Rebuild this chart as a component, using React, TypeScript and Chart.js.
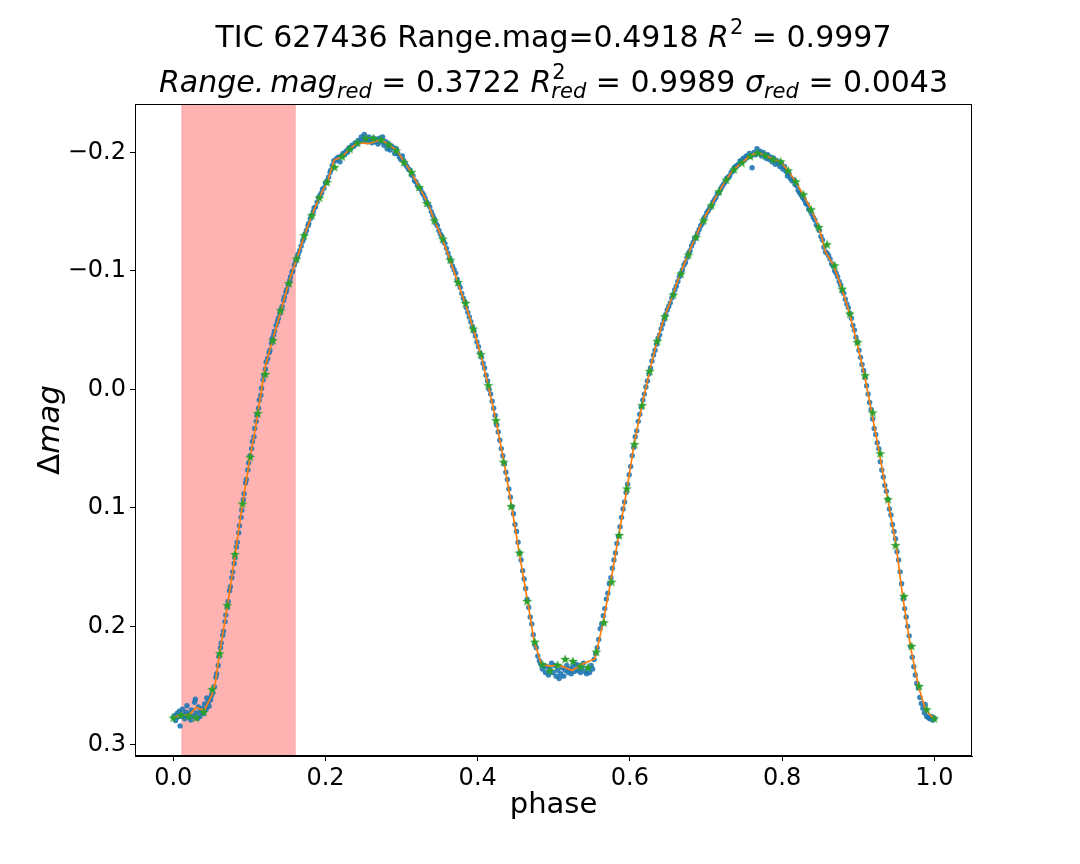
import React, { useEffect, useRef } from 'react';
import { Chart, registerables } from 'chart.js';
Chart.register(...registerables);

const xRange = [-0.0503, 1.0495];
const yRange = [-0.2408, 0.3094];
const xTicks = [0, 0.2, 0.4, 0.6, 0.8, 1.0];
const yTicks = [-0.2, -0.1, 0, 0.1, 0.2, 0.3];
const bandRange = [0.0105, 0.161];

// fitted curve (orange)
const fitPhase = [0.000, 0.0114, 0.021, 0.0302, 0.0407, 0.0508, 0.0551, 0.0608, 0.0713, 0.0814, 0.091, 0.101, 0.1076, 0.1207, 0.1304, 0.1417, 0.1514, 0.1623, 0.1723, 0.182, 0.1916, 0.2025, 0.2113, 0.2222, 0.2323, 0.2424, 0.2563, 0.273, 0.2826, 0.2936, 0.3036, 0.3123, 0.3233, 0.3342, 0.343, 0.3534, 0.3635, 0.3736, 0.3832, 0.3941, 0.4038, 0.4138, 0.4239, 0.4344, 0.4445, 0.4545, 0.4655, 0.4742, 0.4838, 0.4948, 0.5057, 0.5245, 0.535, 0.5538, 0.556, 0.5647, 0.5748, 0.5853, 0.5963, 0.6055, 0.6159, 0.626, 0.6356, 0.6457, 0.6566, 0.6662, 0.6763, 0.6864, 0.696, 0.707, 0.717, 0.7266, 0.7362, 0.7476, 0.7572, 0.7668, 0.7782, 0.7878, 0.7975, 0.8075, 0.8176, 0.8272, 0.8382, 0.8482, 0.857, 0.8675, 0.8785, 0.8885, 0.8981, 0.9081, 0.9177, 0.9278, 0.9387, 0.9497, 0.9584, 0.9685, 0.979, 0.9882, 0.9987];
const fitMag = [0.277, 0.2747, 0.2747, 0.2685, 0.271, 0.2578, 0.248, 0.2227, 0.182, 0.139, 0.0963, 0.0569, 0.034, -0.019, -0.0415, -0.0668, -0.0898, -0.1104, -0.130, -0.1469, -0.1618, -0.175, -0.1933, -0.1966, -0.2031, -0.2082, -0.2073, -0.2107, -0.2067, -0.2017, -0.1918, -0.1834, -0.1707, -0.1573, -0.1427, -0.1272, -0.1095, -0.0906, -0.0729, -0.0513, -0.0297, -0.0035, 0.026, 0.0611, 0.0985, 0.1378, 0.1786, 0.2129, 0.232, 0.2335, 0.2325, 0.2373, 0.2325, 0.2275, 0.2219, 0.1966, 0.1623, 0.1229, 0.0836, 0.0462, 0.0133, -0.0156, -0.0409, -0.0617, -0.08, -0.0977, -0.1137, -0.1286, -0.1427, -0.1553, -0.1671, -0.177, -0.1857, -0.1913, -0.1969, -0.1997, -0.1975, -0.1941, -0.1924, -0.1848, -0.1755, -0.1646, -0.1519, -0.137, -0.116, -0.1047, -0.085, -0.064, -0.04, -0.012, 0.0195, 0.054, 0.0926, 0.1314, 0.1744, 0.2165, 0.2503, 0.27, 0.2776];

// binned means (green stars)
const starPhase = [0.000, 0.010, 0.020, 0.030, 0.040, 0.051, 0.061, 0.071, 0.081, 0.091, 0.101, 0.111, 0.121, 0.131, 0.141, 0.152, 0.162, 0.172, 0.182, 0.192, 0.202, 0.212, 0.222, 0.232, 0.242, 0.253, 0.263, 0.273, 0.283, 0.293, 0.303, 0.313, 0.323, 0.333, 0.343, 0.354, 0.364, 0.374, 0.384, 0.394, 0.404, 0.414, 0.424, 0.434, 0.444, 0.455, 0.465, 0.475, 0.485, 0.495, 0.505, 0.515, 0.525, 0.535, 0.545, 0.556, 0.566, 0.576, 0.586, 0.596, 0.606, 0.616, 0.626, 0.636, 0.646, 0.657, 0.667, 0.677, 0.687, 0.697, 0.707, 0.717, 0.727, 0.737, 0.747, 0.758, 0.768, 0.778, 0.788, 0.798, 0.808, 0.818, 0.828, 0.838, 0.848, 0.859, 0.869, 0.879, 0.889, 0.899, 0.909, 0.919, 0.929, 0.939, 0.949, 0.960, 0.970, 0.980, 0.990, 1.000];
const starMag = [0.277, 0.2747, 0.2755, 0.277, 0.2722, 0.253, 0.2227, 0.182, 0.139, 0.0963, 0.0569, 0.0200, -0.013, -0.0415, -0.0668, -0.0898, -0.1104, -0.130, -0.1469, -0.1618, -0.175, -0.1876, -0.1966, -0.2031, -0.2082, -0.2121, -0.2121, -0.2107, -0.2067, -0.2017, -0.1918, -0.1834, -0.1707, -0.1573, -0.1427, -0.1272, -0.1095, -0.0906, -0.0729, -0.0513, -0.0297, -0.0035, 0.026, 0.0611, 0.0985, 0.1378, 0.1786, 0.2129, 0.232, 0.2373, 0.2325, 0.2275, 0.2292, 0.234, 0.2345, 0.2213, 0.1966, 0.1623, 0.1229, 0.0836, 0.0462, 0.0133, -0.0156, -0.0409, -0.0617, -0.08, -0.0977, -0.1137, -0.1286, -0.1427, -0.1553, -0.1671, -0.177, -0.1857, -0.1913, -0.1969, -0.1997, -0.1975, -0.1941, -0.1924, -0.1848, -0.1755, -0.1646, -0.1519, -0.137, -0.1224, -0.1047, -0.085, -0.064, -0.04, -0.012, 0.0195, 0.054, 0.0926, 0.1314, 0.1744, 0.2165, 0.2503, 0.27, 0.2776];

// observations (blue dots): [phase, mag]
const blueDots: [number, number][] = [
  [0.001, 0.2755], [0.003, 0.2795], [0.005, 0.2735], [0.006, 0.2765], [0.008, 0.2715], [0.009, 0.2840], [0.011, 0.2760], [0.012, 0.2700],
  [0.014, 0.2745], [0.015, 0.2780], [0.017, 0.2725], [0.018, 0.2670], [0.020, 0.2765], [0.021, 0.2740], [0.023, 0.2790], [0.024, 0.2705],
  [0.026, 0.2755], [0.028, 0.2640], [0.029, 0.2615], [0.030, 0.2730], [0.032, 0.2775], [0.033, 0.2680], [0.035, 0.2760], [0.036, 0.2720],
  [0.038, 0.2695], [0.040, 0.2735], [0.041, 0.2655], [0.043, 0.2700], [0.044, 0.2605], [0.046, 0.2640], [0.047, 0.2675], [0.049, 0.2620],
  [0.050, 0.2585], [0.052, 0.2560], [0.054, 0.2510], [0.056, 0.2430], [0.057, 0.2400], [0.059, 0.2330], [0.060, 0.2255], [0.062, 0.2180],
  [0.063, 0.2140], [0.065, 0.2075], [0.066, 0.2040], [0.068, 0.1960], [0.069, 0.1905], [0.071, 0.1840], [0.072, 0.1790], [0.074, 0.1700],
  [0.075, 0.1665], [0.077, 0.1590], [0.078, 0.1540], [0.080, 0.1470], [0.081, 0.1420], [0.083, 0.1330], [0.084, 0.1290], [0.086, 0.1210],
  [0.087, 0.1150], [0.089, 0.1080], [0.090, 0.1020], [0.092, 0.0930], [0.093, 0.0880], [0.095, 0.0790], [0.096, 0.0760], [0.098, 0.0680],
  [0.099, 0.0620], [0.101, 0.0560], [0.103, 0.0500], [0.104, 0.0440], [0.106, 0.0400], [0.107, 0.0330], [0.109, 0.0270], [0.110, 0.0220],
  [0.112, 0.0160], [0.113, 0.0090], [0.115, 0.0050], [0.116, -0.0010], [0.118, -0.0080], [0.119, -0.0120], [0.121, -0.0170], [0.122, -0.0230],
  [0.124, -0.0260], [0.126, -0.0310], [0.127, -0.0330], [0.129, -0.0390], [0.130, -0.0430], [0.132, -0.0460], [0.133, -0.0490], [0.135, -0.0540],
  [0.137, -0.0570], [0.138, -0.0600], [0.140, -0.0640], [0.141, -0.0670], [0.143, -0.0700], [0.145, -0.0750], [0.146, -0.0780], [0.148, -0.0820],
  [0.149, -0.0840], [0.151, -0.0880], [0.153, -0.0920], [0.154, -0.0950], [0.156, -0.0990], [0.157, -0.1000], [0.159, -0.1050], [0.161, -0.1080],
  [0.163, -0.1120], [0.164, -0.1140], [0.166, -0.1170], [0.168, -0.1210], [0.170, -0.1250], [0.171, -0.1270], [0.173, -0.1310], [0.175, -0.1340],
  [0.177, -0.1380], [0.178, -0.1400], [0.180, -0.1440], [0.182, -0.1470], [0.184, -0.1500], [0.185, -0.1530], [0.187, -0.1540], [0.189, -0.1580],
  [0.191, -0.1620], [0.193, -0.1640], [0.195, -0.1660], [0.196, -0.1690], [0.198, -0.1700], [0.200, -0.1740], [0.202, -0.1760], [0.204, -0.1790],
  [0.206, -0.1830], [0.207, -0.1850], [0.209, -0.1890], [0.211, -0.1930], [0.213, -0.1930], [0.215, -0.1950], [0.217, -0.1960], [0.219, -0.1920],
  [0.221, -0.1970], [0.223, -0.1990], [0.225, -0.1980], [0.227, -0.2010], [0.229, -0.2000], [0.231, -0.2040], [0.233, -0.2030], [0.235, -0.2060],
  [0.237, -0.2050], [0.239, -0.2080], [0.241, -0.2070], [0.243, -0.2100], [0.245, -0.2090], [0.247, -0.2130], [0.249, -0.2100], [0.251, -0.2150],
  [0.253, -0.2110], [0.255, -0.2090], [0.257, -0.2130], [0.259, -0.2100], [0.261, -0.2080], [0.263, -0.2120], [0.265, -0.2090], [0.267, -0.2110],
  [0.269, -0.2070], [0.271, -0.2120], [0.273, -0.2090], [0.275, -0.2130], [0.277, -0.2060], [0.279, -0.2090], [0.281, -0.2030], [0.283, -0.2070],
  [0.285, -0.2020], [0.287, -0.2050], [0.289, -0.2040], [0.291, -0.1990], [0.293, -0.2030], [0.295, -0.1990], [0.297, -0.1960], [0.299, -0.1940],
  [0.301, -0.1970], [0.303, -0.1930], [0.305, -0.1900], [0.307, -0.1880], [0.309, -0.1860], [0.311, -0.1850], [0.313, -0.1810], [0.315, -0.1800],
  [0.317, -0.1760], [0.319, -0.1750], [0.321, -0.1720], [0.323, -0.1700], [0.325, -0.1690], [0.327, -0.1660], [0.329, -0.1640], [0.331, -0.1610],
  [0.333, -0.1580], [0.335, -0.1560], [0.337, -0.1540], [0.339, -0.1500], [0.341, -0.1470], [0.343, -0.1440], [0.345, -0.1400], [0.347, -0.1380],
  [0.349, -0.1340], [0.351, -0.1310], [0.353, -0.1290], [0.355, -0.1250], [0.357, -0.1230], [0.359, -0.1190], [0.361, -0.1150], [0.363, -0.1110],
  [0.365, -0.1080], [0.367, -0.1040], [0.369, -0.1010], [0.371, -0.0980], [0.373, -0.0930], [0.375, -0.0890], [0.377, -0.0860], [0.379, -0.0810],
  [0.381, -0.0770], [0.383, -0.0740], [0.385, -0.0690], [0.387, -0.0650], [0.389, -0.0610], [0.391, -0.0570], [0.393, -0.0530], [0.395, -0.0490],
  [0.397, -0.0450], [0.399, -0.0400], [0.401, -0.0360], [0.403, -0.0310], [0.405, -0.0270], [0.407, -0.0220], [0.409, -0.0180], [0.411, -0.0120],
  [0.413, -0.0070], [0.415, 0.0000], [0.417, 0.0040], [0.419, 0.0100], [0.421, 0.0160], [0.423, 0.0220], [0.425, 0.0300], [0.427, 0.0360],
  [0.429, 0.0430], [0.431, 0.0500], [0.433, 0.0560], [0.435, 0.0630], [0.437, 0.0700], [0.439, 0.0760], [0.441, 0.0840], [0.443, 0.0910],
  [0.445, 0.0990], [0.447, 0.1050], [0.449, 0.1140], [0.451, 0.1200], [0.453, 0.1290], [0.455, 0.1380], [0.457, 0.1440], [0.459, 0.1530],
  [0.461, 0.1600], [0.463, 0.1680], [0.465, 0.1770], [0.467, 0.1840], [0.469, 0.1920], [0.471, 0.1980], [0.473, 0.2070], [0.475, 0.2150],
  [0.477, 0.2180], [0.479, 0.2250], [0.481, 0.2290], [0.483, 0.2320], [0.485, 0.2360], [0.487, 0.2330], [0.489, 0.2390], [0.491, 0.2340],
  [0.493, 0.2410], [0.495, 0.2360], [0.497, 0.2310], [0.499, 0.2390], [0.501, 0.2330], [0.503, 0.2420], [0.505, 0.2370], [0.507, 0.2440],
  [0.509, 0.2400], [0.511, 0.2350], [0.513, 0.2420], [0.515, 0.2370], [0.517, 0.2330], [0.519, 0.2390], [0.521, 0.2360], [0.523, 0.2400],
  [0.525, 0.2340], [0.527, 0.2380], [0.529, 0.2320], [0.531, 0.2370], [0.533, 0.2330], [0.535, 0.2390], [0.537, 0.2350], [0.539, 0.2310],
  [0.541, 0.2380], [0.543, 0.2400], [0.545, 0.2350], [0.547, 0.2390], [0.549, 0.2330], [0.551, 0.2360], [0.553, 0.2280], [0.555, 0.2230],
  [0.557, 0.2180], [0.559, 0.2110], [0.561, 0.2020], [0.563, 0.1980], [0.565, 0.1910], [0.567, 0.1850], [0.569, 0.1770], [0.571, 0.1720],
  [0.573, 0.1640], [0.575, 0.1590], [0.577, 0.1510], [0.579, 0.1440], [0.581, 0.1380], [0.583, 0.1300], [0.585, 0.1240], [0.587, 0.1160],
  [0.589, 0.1080], [0.591, 0.1010], [0.593, 0.0950], [0.595, 0.0870], [0.597, 0.0800], [0.599, 0.0720], [0.601, 0.0650], [0.603, 0.0560],
  [0.605, 0.0490], [0.607, 0.0400], [0.609, 0.0350], [0.611, 0.0270], [0.613, 0.0210], [0.615, 0.0150], [0.617, 0.0090], [0.619, 0.0040],
  [0.621, -0.0020], [0.623, -0.0070], [0.625, -0.0130], [0.627, -0.0180], [0.629, -0.0240], [0.631, -0.0290], [0.633, -0.0330], [0.635, -0.0380],
  [0.637, -0.0430], [0.639, -0.0460], [0.641, -0.0510], [0.643, -0.0550], [0.645, -0.0590], [0.647, -0.0630], [0.649, -0.0670], [0.651, -0.0700],
  [0.653, -0.0730], [0.655, -0.0770], [0.657, -0.0800], [0.659, -0.0840], [0.661, -0.0870], [0.663, -0.0910], [0.665, -0.0950], [0.667, -0.0980],
  [0.669, -0.1010], [0.671, -0.1050], [0.673, -0.1070], [0.675, -0.1110], [0.677, -0.1150], [0.679, -0.1170], [0.681, -0.1210], [0.683, -0.1240],
  [0.685, -0.1270], [0.687, -0.1290], [0.689, -0.1320], [0.691, -0.1350], [0.693, -0.1380], [0.695, -0.1400], [0.697, -0.1440], [0.699, -0.1460],
  [0.701, -0.1490], [0.703, -0.1510], [0.705, -0.1530], [0.707, -0.1550], [0.709, -0.1580], [0.711, -0.1600], [0.713, -0.1620], [0.715, -0.1650],
  [0.717, -0.1660], [0.719, -0.1690], [0.721, -0.1710], [0.723, -0.1730], [0.725, -0.1750], [0.727, -0.1780], [0.729, -0.1790], [0.731, -0.1800],
  [0.733, -0.1830], [0.735, -0.1840], [0.737, -0.1870], [0.739, -0.1880], [0.741, -0.1890], [0.743, -0.1900], [0.745, -0.1930], [0.747, -0.1920],
  [0.749, -0.1950], [0.751, -0.1940], [0.753, -0.1970], [0.755, -0.1960], [0.757, -0.1990], [0.759, -0.1970], [0.7605, -0.1870], [0.763, -0.2000],
  [0.765, -0.1980], [0.767, -0.2030], [0.769, -0.1990], [0.771, -0.2010], [0.773, -0.1970], [0.775, -0.2000], [0.777, -0.1980], [0.779, -0.1950],
  [0.781, -0.1980], [0.783, -0.1940], [0.785, -0.1960], [0.787, -0.1920], [0.789, -0.1950], [0.791, -0.1900], [0.793, -0.1930], [0.795, -0.1910],
  [0.797, -0.1880], [0.799, -0.1910], [0.801, -0.1860], [0.803, -0.1880], [0.805, -0.1840], [0.807, -0.1800], [0.809, -0.1820], [0.811, -0.1780],
  [0.813, -0.1760], [0.815, -0.1770], [0.817, -0.1730], [0.819, -0.1720], [0.821, -0.1680], [0.823, -0.1660], [0.825, -0.1640], [0.827, -0.1620],
  [0.829, -0.1600], [0.831, -0.1570], [0.833, -0.1560], [0.835, -0.1520], [0.837, -0.1510], [0.839, -0.1480], [0.841, -0.1450], [0.843, -0.1430],
  [0.845, -0.1390], [0.847, -0.1370], [0.849, -0.1340], [0.851, -0.1290], [0.853, -0.1260], [0.855, -0.1200], [0.857, -0.1160], [0.859, -0.1150],
  [0.861, -0.1130], [0.863, -0.1100], [0.865, -0.1060], [0.867, -0.1040], [0.869, -0.1000], [0.871, -0.0980], [0.873, -0.0950], [0.875, -0.0910],
  [0.877, -0.0880], [0.879, -0.0830], [0.881, -0.0810], [0.883, -0.0760], [0.885, -0.0720], [0.887, -0.0690], [0.889, -0.0640], [0.891, -0.0600],
  [0.893, -0.0540], [0.895, -0.0500], [0.897, -0.0440], [0.899, -0.0400], [0.901, -0.0330], [0.903, -0.0270], [0.905, -0.0210], [0.907, -0.0160],
  [0.909, -0.0100], [0.911, -0.0030], [0.913, 0.0040], [0.915, 0.0110], [0.917, 0.0170], [0.919, 0.0250], [0.921, 0.0330], [0.923, 0.0380],
  [0.925, 0.0450], [0.927, 0.0500], [0.929, 0.0610], [0.931, 0.0680], [0.933, 0.0740], [0.935, 0.0810], [0.937, 0.0860], [0.939, 0.0930],
  [0.941, 0.1010], [0.943, 0.1060], [0.945, 0.1140], [0.947, 0.1200], [0.949, 0.1260], [0.951, 0.1370], [0.953, 0.1440], [0.955, 0.1540],
  [0.957, 0.1640], [0.959, 0.1770], [0.961, 0.1850], [0.963, 0.1920], [0.965, 0.2000], [0.967, 0.2080], [0.969, 0.2170], [0.971, 0.2260],
  [0.973, 0.2340], [0.975, 0.2410], [0.977, 0.2480], [0.979, 0.2520], [0.981, 0.2600], [0.983, 0.2650], [0.985, 0.2690], [0.987, 0.2730],
  [0.988, 0.2660], [0.990, 0.2760], [0.992, 0.2770], [0.994, 0.2780], [0.996, 0.2760], [0.998, 0.2790], [1.000, 0.2775],
];

const FONT = '"DejaVu Sans", "Liberation Sans", sans-serif';

type Seg = { t: string; it?: boolean; sup?: string; sub?: string };
const titleLine1: Seg[] = [{ t: 'TIC 627436 Range.mag=0.4918 ' }, { t: 'R', it: true, sup: '2' }, { t: ' = 0.9997' }];
const titleLine2: Seg[] = [
  { t: 'Range.\u2009mag', it: true, sub: 'red' },
  { t: ' = 0.3722 ' },
  { t: 'R', it: true, sup: '2', sub: 'red' },
  { t: ' = 0.9989 ' },
  { t: '\u03c3', it: true, sub: 'red' },
  { t: ' = 0.0043' },
];

function fnt(size: number, it?: boolean) {
  return `${it ? 'italic ' : ''}${size}px ${FONT}`;
}

function drawRich(ctx: CanvasRenderingContext2D, segs: Seg[], cx: number, base: number, size: number) {
  const small = size * 0.7;
  const widths = segs.map((s) => {
    ctx.font = fnt(size, s.it);
    const w = ctx.measureText(s.t).width;
    let e = 0;
    if (s.sup) { ctx.font = fnt(small, false); e = Math.max(e, ctx.measureText(s.sup).width); }
    if (s.sub) { ctx.font = fnt(small, true); e = Math.max(e, ctx.measureText(s.sub).width); }
    return [w, e];
  });
  const total = widths.reduce((a, [w, e]) => a + w + e, 0);
  let x = cx - total / 2;
  ctx.textAlign = 'left';
  ctx.textBaseline = 'alphabetic';
  ctx.fillStyle = '#000';
  segs.forEach((s, i) => {
    ctx.font = fnt(size, s.it);
    ctx.fillText(s.t, x, base);
    x += widths[i][0];
    if (s.sup) { ctx.font = fnt(small, false); ctx.fillText(s.sup, x + 1, base - size * 0.42); }
    if (s.sub) { ctx.font = fnt(small, true); ctx.fillText(s.sub, x, base + size * 0.2); }
    x += widths[i][1];
  });
}

function fmtTick(v: number) {
  const s = Math.abs(v) < 1e-9 ? '0.0' : v.toFixed(1);
  return s.replace('-', '\u2212');
}

function makeStar() {
  const c = document.createElement('canvas');
  c.width = 14; c.height = 14;
  const g = c.getContext('2d')!;
  g.fillStyle = '#2ca02c';
  g.beginPath();
  for (let k = 0; k < 10; k++) {
    const r = k % 2 === 0 ? 5.2 : 2.1;
    const a = -Math.PI / 2 + (k * Math.PI) / 5;
    const px = 7 + r * Math.cos(a), py = 7.5 + r * Math.sin(a);
    if (k === 0) g.moveTo(px, py); else g.lineTo(px, py);
  }
  g.closePath();
  g.fill();
  return c;
}

const decor = {
  id: 'decor',
  beforeDatasetsDraw(chart: any) {
    const { ctx, chartArea, scales } = chart;
    const x0 = scales.x.getPixelForValue(bandRange[0]);
    const x1 = scales.x.getPixelForValue(bandRange[1]);
    ctx.save();
    ctx.fillStyle = 'rgba(255,0,0,0.3)';
    ctx.fillRect(x0, chartArea.top, x1 - x0, chartArea.bottom - chartArea.top);
    ctx.restore();
  },
  afterDraw(chart: any) {
    const { ctx, chartArea } = chart;
    ctx.save();
    ctx.strokeStyle = '#000';
    ctx.lineWidth = 1;
    ctx.strokeRect(chartArea.left + 0.5, chartArea.top + 0.5, chartArea.right - chartArea.left - 1, chartArea.bottom - chartArea.top - 1);
    const cx = (chartArea.left + chartArea.right) / 2;
    const cy = (chartArea.top + chartArea.bottom) / 2;
    drawRich(ctx, titleLine1, cx, 47, 30);
    drawRich(ctx, titleLine2, cx, 92, 30);
    // x label
    ctx.font = fnt(29, false);
    ctx.textAlign = 'center';
    ctx.textBaseline = 'alphabetic';
    ctx.fillStyle = '#000';
    ctx.fillText('phase', cx, 813);
    // y label
    ctx.translate(59, cy);
    ctx.rotate(-Math.PI / 2);
    ctx.font = fnt(31, false);
    const wD = ctx.measureText('\u0394').width;
    ctx.font = fnt(31, true);
    const wM = ctx.measureText('mag').width;
    const start = -(wD + wM) / 2;
    ctx.textAlign = 'left';
    ctx.font = fnt(31, false);
    ctx.fillText('\u0394', start, 0);
    ctx.font = fnt(31, true);
    ctx.fillText('mag', start + wD, 0);
    ctx.restore();
  },
};

export default function App() {
  const ref = useRef<HTMLCanvasElement>(null);
  useEffect(() => {
    const star = makeStar();
    const chart = new Chart(ref.current!, {
      type: 'scatter',
      data: {
        datasets: [
          {
            label: 'binned',
            data: starPhase.map((p, i) => ({ x: p, y: starMag[i] })),
            pointStyle: star as any,
            pointRadius: 6,
            order: 0,
          },
          {
            label: 'fit',
            type: 'line' as any,
            data: fitPhase.map((p, i) => ({ x: p, y: fitMag[i] })),
            borderColor: '#ff7f0e',
            borderWidth: 1.7,
            pointRadius: 0,
            showLine: true,
            fill: false,
            tension: 0,
            order: 1,
          },
          {
            label: 'obs',
            data: blueDots.map(([p, m]) => ({ x: p, y: m })),
            backgroundColor: 'rgba(31,119,180,0.9)',
            borderWidth: 0,
            pointRadius: 2.7,
            order: 2,
          },
        ],
      },
      options: {
        animation: false,
        responsive: true,
        maintainAspectRatio: false,
        layout: { padding: { top: 104, right: 108, left: 0, bottom: 0 } },
        plugins: { legend: { display: false }, tooltip: { enabled: false }, title: { display: false } },
        scales: {
          x: {
            type: 'linear',
            min: xRange[0],
            max: xRange[1],
            afterBuildTicks: (s: any) => { s.ticks = xTicks.map((v) => ({ value: v })); },
            afterFit: (s: any) => { s.height = 108; },
            ticks: { callback: (v: any) => fmtTick(Number(v)), font: { family: FONT, size: 24 }, color: '#000', padding: 3, maxRotation: 0 },
            grid: { drawOnChartArea: false, drawTicks: true, tickLength: 5, color: '#000' },
            border: { display: true, color: '#000', width: 1 },
          },
          y: {
            type: 'linear',
            reverse: true,
            min: yRange[0],
            max: yRange[1],
            afterBuildTicks: (s: any) => { s.ticks = yTicks.map((v) => ({ value: v })); },
            afterFit: (s: any) => { s.width = 135; },
            ticks: { callback: (v: any) => fmtTick(Number(v)), font: { family: FONT, size: 24 }, color: '#000', padding: 4 },
            grid: { drawOnChartArea: false, drawTicks: true, tickLength: 5, color: '#000' },
            border: { display: true, color: '#000', width: 1 },
          },
        },
      },
      plugins: [decor],
    });
    return () => chart.destroy();
  }, []);
  return (
    <div style={{ position: 'fixed', left: 0, top: 0, width: 1080, height: 864, background: '#fff' }}>
      <canvas ref={ref} />
    </div>
  );
}
